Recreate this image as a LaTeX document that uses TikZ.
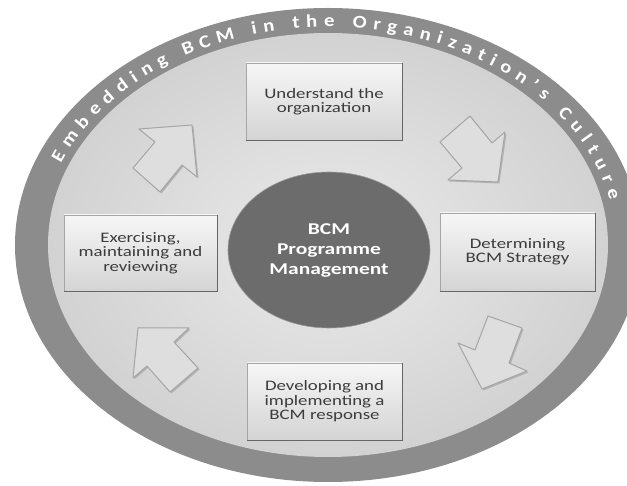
\documentclass[tikz,border=0pt]{standalone}
\usepackage{fontspec}
\setmainfont{Carlito}
\newfontfamily\boxfont[FakeStretch=1.3]{Carlito}
\newfontfamily\ringfont[FakeStretch=1.15]{Carlito}
\usetikzlibrary{decorations.text,shapes.geometric}
\definecolor{ringgray}{RGB}{140,140,140}
\definecolor{disclight}{RGB}{234,234,234}
\definecolor{discdark}{RGB}{210,210,210}
\definecolor{coregray}{RGB}{108,108,108}
\definecolor{boxtop}{RGB}{246,246,246}
\definecolor{boxbot}{RGB}{212,212,212}
\definecolor{boxtext}{RGB}{60,60,60}
\definecolor{arrowfill}{RGB}{222,222,222}
\definecolor{arrowedge}{RGB}{165,165,165}
\begin{document}
\begin{tikzpicture}[x=1pt,y=1pt,
  boxst/.style={rectangle, inner sep=0pt, top color=boxtop, bottom color=boxbot,
    draw=black!35, line width=0.8pt, align=center, text=boxtext,
    font=\boxfont\fontsize{14.5}{14.5}\selectfont},
  boxedge/.style={draw=black!60, line width=1.6pt},
  corest/.style={ellipse, inner sep=0pt, fill=coregray, draw=black!40, line width=0.6pt,
    minimum width=202, minimum height=156, align=center, text=white,
    font=\boxfont\bfseries\fontsize{16.5}{20}\selectfont},
  arrowst/.style={fill=arrowfill, draw=arrowedge, line width=1pt, line join=round},
  arrowshadow/.style={fill=black!30, draw=none}
]
\useasboundingbox (0,0) rectangle (627,485);
\clip (0,0) rectangle (627,485);
\coordinate (C) at (328,240);
% outer ring and disc
\fill[ringgray] (C) ellipse[x radius=313, y radius=237];
\shade[inner color=disclight, outer color=discdark] (C) ellipse[x radius=280, y radius=212];
% ring text
\path[decorate, decoration={text along path,
    text={|\ringfont\bfseries\fontsize{18}{18}\selectfont|Embedding BCM in the Organization’s Culture},
    text align={fit to path}, text color=white}]
  (C) ++(158:288 and 218) arc[start angle=158, end angle=12, x radius=288, y radius=218];
% arrows (shadow then body)
\foreach \s/\st in {{(1.5,-1.5)}/arrowshadow, {(0,0)}/arrowst}{
  \path[\st, shift=\s] (192,360) -- (139,356) -- (155,343) -- (133,317) -- (160,293) -- (182,320) -- (197,308) -- cycle;
  \path[\st, shift=\s] (470,369) -- (492,342) -- (505,353) -- (498,303) -- (448,305) -- (462,317) -- (440,343) -- cycle;
  \path[\st, shift=\s] (488,169) -- (522,157) -- (509,122) -- (527,114) -- (482,96) -- (458,142) -- (475,135) -- cycle;
  \path[\st, shift=\s] (138,157) -- (189,157) -- (174,143) -- (198,117) -- (170,93) -- (147,119) -- (133,107) -- cycle;
}
% central node
\node[corest] (core) at (329,235) {BCM\\Programme\\Management};
% boxes
\node[boxst, minimum width=156, minimum height=77] (understand) at (324,383.5) {Understand the\\organization};
\node[boxst, minimum width=155, minimum height=78] (strategy) at (517.5,233) {Determining\\BCM Strategy};
\node[boxst, minimum width=155, minimum height=77] (response) at (324.5,83.5) {Developing and\\implementing a\\BCM response};
\node[boxst, minimum width=153, minimum height=76] (exercise) at (140.5,232) {Exercising,\\maintaining and\\reviewing};
\foreach \b in {understand,strategy,response,exercise}{
  \draw[boxedge] (\b.north east) -- (\b.south east) -- (\b.south west);
}
\end{tikzpicture}
\end{document}
